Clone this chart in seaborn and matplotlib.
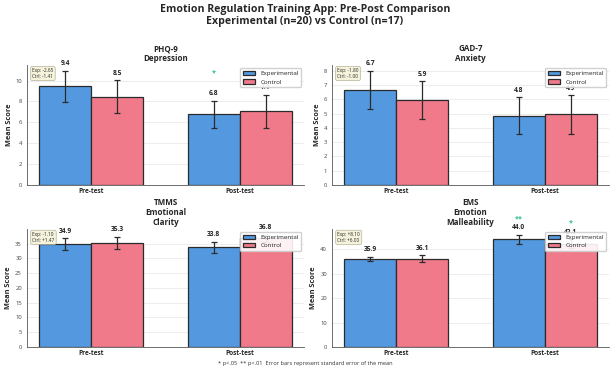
import matplotlib
matplotlib.use("Agg")
import matplotlib.pyplot as plt
import numpy as np
import pandas as pd
import seaborn as sns

# values
times = ["Pre-test", "Post-test"]
groups = ["Experimental", "Control"]

titles = ["PHQ-9\nDepression", "GAD-7\nAnxiety",
          "TMMS\nEmotional\nClarity", "EMS\nEmotion\nMalleability"]

exp_means = [[9.44, 6.79], [6.65, 4.85], [34.90, 33.80], [35.90, 44.00]]
ctrl_means = [[8.47, 7.06], [5.94, 4.94], [35.30, 36.77], [36.10, 42.10]]
exp_se = [[1.50, 1.30], [1.35, 1.30], [1.90, 1.90], [0.90, 1.90]]
ctrl_se = [[1.55, 1.60], [1.32, 1.35], [2.10, 1.30], [1.30, 1.80]]

exp_change = ["-2.65", "-1.80", "-1.10", "+8.10"]
ctrl_change = ["-1.41", "-1.00", "+1.47", "+6.00"]

# significance marks: (panel, time, group, mark)
sig_marks = [(0, 1, 0, "*"), (3, 1, 0, "**"), (3, 1, 1, "*")]

colors = {"Experimental": "#5499E0", "Control": "#F07A8A"}
star_color = "#2BBF8A"

sns.set_style("white")
plt.rcParams["font.family"] = ["Open Sans", "DejaVu Sans"]

fig = plt.figure(figsize=(6.1, 3.76), dpi=100)
fig.suptitle("Emotion Regulation Training App: Pre-Post Comparison\n"
             "Experimental (n=20) vs Control (n=17)",
             fontsize=7.6, fontweight="bold", y=0.99, linespacing=1.15)

# axes boxes in figure fractions: left, bottom, width, height
W = 0.455
boxes = [(0.0439, 0.508, W, 0.319), (0.5439, 0.508, W, 0.319),
         (0.0439, 0.0771, W, 0.314), (0.5439, 0.0771, W, 0.314)]

for i in range(4):
    ax = fig.add_axes(boxes[i])
    df = pd.DataFrame({
        "time": times * 2,
        "group": [groups[0]] * 2 + [groups[1]] * 2,
        "mean": exp_means[i] + ctrl_means[i],
        "se": exp_se[i] + ctrl_se[i],
    })
    sns.barplot(data=df, x="time", y="mean", hue="group", order=times,
                hue_order=groups, palette=colors, errorbar=None, width=0.7,
                saturation=1, edgecolor="#2b2b2b", linewidth=0.9, ax=ax)

    top = (df["mean"] + df["se"]).max() * 1.05
    bar_sets = list(ax.containers)
    for g, cont in enumerate(bar_sets):
        sub = df[df.group == groups[g]].set_index("time").loc[times]
        for t, bar in enumerate(cont):
            xc = bar.get_x() + bar.get_width() / 2
            m = sub["mean"].iloc[t]
            s = sub["se"].iloc[t]
            ax.errorbar(xc, m, yerr=s, fmt="none", ecolor="#2b2b2b",
                        elinewidth=0.9, capsize=2.5, capthick=0.9, zorder=3)
            ax.annotate(f"{m:.1f}", (xc, m + s), xytext=(0, 2.5),
                        textcoords="offset points", ha="center", va="bottom",
                        fontsize=4.8, fontweight="bold", color="#222222")
            for (p, tt, gg, mark) in sig_marks:
                if p == i and tt == t and gg == g:
                    off = 17 if i == 0 else 9
                    ax.annotate(mark, (xc, m + s), xytext=(0, off),
                                textcoords="offset points", ha="center",
                                va="bottom", fontsize=5.2, color=star_color,
                                fontweight="bold")

    ax.set_xlim(-0.435, 1.435)
    ax.set_ylim(0, top)
    ax.set_title(titles[i], fontsize=5.8, fontweight="bold", pad=3,
                 linespacing=1.1)
    ax.set_xlabel("")
    ax.set_ylabel("Mean Score", fontsize=5.3, fontweight="bold", labelpad=2)
    ax.tick_params(axis="x", labelsize=4.7, length=0, pad=2)
    ax.tick_params(axis="y", labelsize=4.2, length=2, pad=1.5,
                   colors="#444444", width=0.5)
    for lab in ax.get_xticklabels():
        lab.set_fontweight("bold")
    ax.yaxis.grid(True, color="#e6e6e6", linewidth=0.5)
    ax.set_axisbelow(True)
    sns.despine(ax=ax)
    for sp in ["left", "bottom"]:
        ax.spines[sp].set_color("#555555")
        ax.spines[sp].set_linewidth(0.6)

    ax.legend(loc="upper right", fontsize=4.5, frameon=True,
              edgecolor="#cccccc", fancybox=True, framealpha=0.9)

    ax.text(0.02, 0.975, f"Exp: {exp_change[i]}\nCtrl: {ctrl_change[i]}",
            transform=ax.transAxes, fontsize=3.4, va="top", ha="left",
            bbox=dict(boxstyle="round,pad=0.35", facecolor="#f5f3dc",
                      edgecolor="#b5b39a", linewidth=0.5))

fig.text(0.5, 0.032,
         "* p<.05  ** p<.01  Error bars represent standard error of the mean",
         ha="center", va="center", fontsize=4.1, color="#333333")

fig.savefig("out.png", dpi=100)
